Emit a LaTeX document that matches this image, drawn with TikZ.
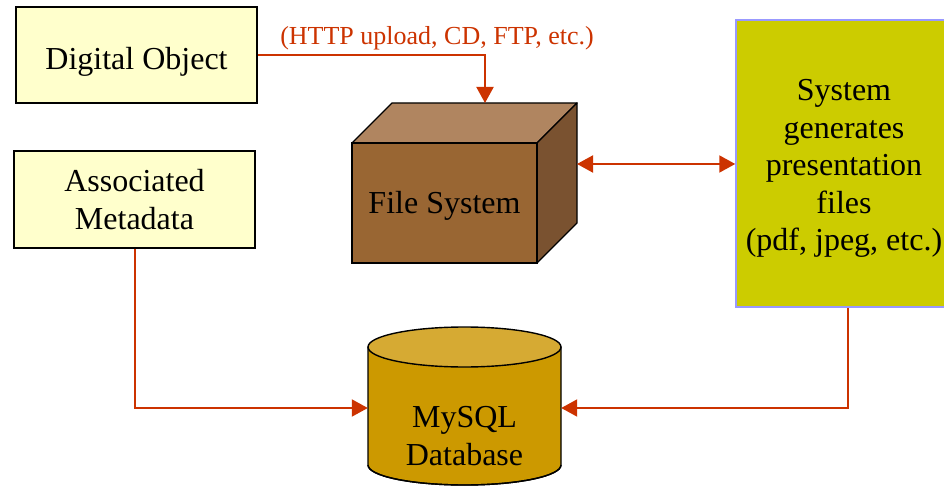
\documentclass[tikz,border=0pt]{standalone}
\usepackage{fontspec}
\setmainfont{Liberation Serif}
\usetikzlibrary{arrows.meta}
\definecolor{boxyellow}{HTML}{FFFFCC}
\definecolor{sysfill}{HTML}{CCCC00}
\definecolor{sysedge}{HTML}{9999FF}
\definecolor{cubefront}{HTML}{996633}
\definecolor{cubetop}{HTML}{B08560}
\definecolor{cubeside}{HTML}{7A5230}
\definecolor{cylbody}{HTML}{CC9900}
\definecolor{cyltop}{HTML}{D6AA33}
\definecolor{arrred}{HTML}{CC3300}
\begin{document}
\begin{tikzpicture}[x=1pt,y=-1pt,
  bigtext/.style={font=\fontsize{32}{37.5}\selectfont},
  inbox/.style={draw=black,line width=1.5pt,fill=boxyellow,bigtext,align=center,inner sep=0pt},
  conn/.style={draw=arrred,line width=2pt},
  tip/.style={-{Triangle[length=16pt,width=17pt]}},
  faceline/.style={draw=black,line width=1.4pt,line join=round}]
\useasboundingbox (0,0) rectangle (944,486);
% boxes
\node[inbox,minimum width=241pt,minimum height=96pt,text height=29pt,text depth=0pt] (dobj) at (136.5,55) {Digital Object};
\node[inbox,minimum width=241pt,minimum height=97pt] (meta) at (134.5,199.5) {Associated\\Metadata};
\node[draw=sysedge,line width=1.5pt,fill=sysfill,inner sep=0pt,
      minimum width=216pt,minimum height=287pt] (sys) at (844,163.5) {};
\node[bigtext,align=center,inner sep=0pt] (systxt) at (844,168.5)
      {System\\ generates\\presentation\\ files\\(pdf, jpeg, etc.)};
% cube
\fill[cubetop,faceline] (352,143) -- (392,103) -- (577,103) -- (537,143) -- cycle;
\fill[cubeside,faceline] (537,143) -- (577,103) -- (577,223) -- (537,263) -- cycle;
\node[fill=cubefront,draw=black,line width=1.4pt,minimum width=185pt,minimum height=120pt,
      inner sep=0pt,bigtext,text height=28pt,text depth=7pt] (fs) at (444.5,203) {File System};
\coordinate (fstop) at (485,103);
\coordinate (fsside) at (577,164);
% cylinder
\fill[cylbody,faceline] (368,347) -- (368,465) arc[start angle=180,end angle=0,x radius=96.5pt,y radius=-20pt]
   -- (561,347) -- cycle;
\draw[faceline] (368,465) arc[start angle=180,end angle=360,x radius=96.5pt,y radius=20pt];
\draw[faceline,fill=cyltop] (464.5,347) ellipse[x radius=96.5pt,y radius=20pt];
\node[minimum width=193pt,minimum height=118pt,inner sep=0pt] (db) at (464.5,406) {};
\node[bigtext,align=center,inner sep=0pt] (dbtxt) at (464.5,436) {MySQL\\Database};
% connectors
\draw[conn,tip] (dobj.east) -| (fstop);
\node[text=arrred,font=\fontsize{26}{30}\selectfont,inner sep=0pt] (lbl) at (437,38) {(HTTP upload, CD, FTP, etc.)};
\draw[conn,{Triangle[length=16pt,width=17pt]}-{Triangle[length=16pt,width=17pt]}] (fsside) -- (sys.west |- fsside);
\draw[conn,tip] (meta.south) |- ([yshift=-2pt]db.west);
\draw[conn,tip] ([xshift=4pt]sys.south) |- ([yshift=-2pt]db.east);
\end{tikzpicture}
\end{document}
